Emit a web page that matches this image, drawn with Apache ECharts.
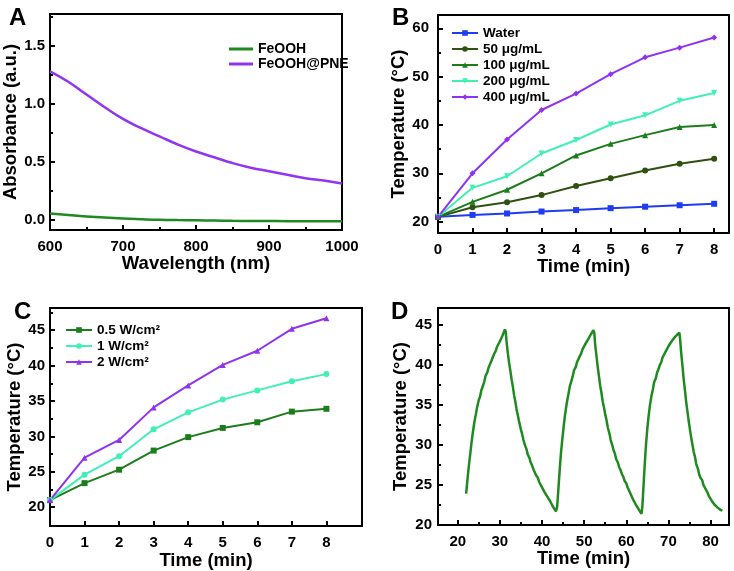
<!DOCTYPE html>
<html>
<head>
<meta charset="utf-8">
<script src="https://cdn.jsdelivr.net/npm/echarts@6/dist/echarts.min.js"></script>
<style>html,body{margin:0;padding:0;background:#fff}#c{width:734px;height:571px}</style>
</head>
<body>
<div id="c"></div>
<script>
// ---- Panel A data ----
const aWavelength = [600,625,650,675,700,725,750,775,800,825,850,875,900,925,950,975,1000];
const aFeOOH = [0.057,0.043,0.031,0.021,0.013,0.007,0.002,-0.001,-0.003,-0.005,-0.007,-0.008,-0.009,-0.010,-0.010,-0.010,-0.010];
const aPNE = [1.28,1.19,1.08,0.97,0.87,0.79,0.72,0.65,0.59,0.54,0.49,0.45,0.42,0.39,0.36,0.34,0.315];
const aXTicks = [600,700,800,900,1000];
const aXMinor = [650,750,850,950];
const aYTicks = [0,0.5,1.0,1.5];
const aYMinor = [0.25,0.75,1.25,1.75];

// ---- Panel B data ----
const bTime = [0,1,2,3,4,5,6,7,8];
const bWater = [21.0,21.4,21.7,22.1,22.4,22.8,23.1,23.4,23.7];
const b50 = [21.0,23.0,24.0,25.5,27.4,29.0,30.6,32.0,33.0];
const b100 = [21.0,24.1,26.6,30.0,33.7,36.1,37.9,39.6,40.0];
const b200 = [21.0,27.0,29.4,34.1,36.9,40.1,42.0,45.0,46.6];
const b400 = [21.0,30.0,37.0,43.1,46.5,50.5,54.0,56.0,58.1];
const bXTicks = [0,1,2,3,4,5,6,7,8];
const bYTicks = [20,30,40,50,60];
const bYMinor = [25,35,45,55];

// ---- Panel C data ----
const cTime = [0,1,2,3,4,5,6,7,8];
const c05 = [21.0,23.4,25.3,28.0,29.9,31.2,32.0,33.5,33.9];
const c1 = [21.0,24.6,27.2,31.0,33.4,35.2,36.5,37.8,38.8];
const c2 = [21.0,27.0,29.5,34.1,37.2,40.1,42.1,45.2,46.7];
const cXTicks = [0,1,2,3,4,5,6,7,8];
const cYTicks = [20,25,30,35,40,45];
const cYMinor = [22.5,27.5,32.5,37.5,42.5,47.5];

// ---- Panel D data ----
const dTime = [
22.0,22.3,22.6,23.0,23.3,23.6,24.0,24.3,24.6,25.0,25.3,25.6,26.0,26.3,26.6,27.0,27.3,27.6,28.0,28.3,28.6,29.0,29.3,29.6,30.0,30.3,30.6,31.0,31.2,31.4,
31.6,31.9,32.2,32.5,32.8,33.1,33.4,33.7,34.0,34.3,34.6,35.0,35.3,35.6,36.0,36.3,36.6,37.0,37.3,37.6,38.0,38.3,38.6,39.0,39.3,39.6,40.0,40.3,40.6,41.0,41.3,41.6,42.0,42.3,42.6,43.0,43.3,
43.6,43.9,44.2,44.5,44.8,45.1,45.4,45.7,46.0,46.3,46.6,47.0,47.3,47.6,48.0,48.3,48.6,49.0,49.3,49.6,50.0,50.3,50.6,51.0,51.3,51.6,52.0,52.2,52.4,
52.6,52.9,53.2,53.5,53.8,54.1,54.4,54.7,55.0,55.3,55.6,56.0,56.3,56.6,57.0,57.3,57.6,58.0,58.3,58.6,59.0,59.3,59.6,60.0,60.3,60.6,61.0,61.3,61.6,62.0,62.3,62.6,63.0,63.3,63.6,
63.8,64.1,64.4,64.7,65.0,65.3,65.6,66.0,66.3,66.6,67.0,67.3,67.6,68.0,68.3,68.6,69.0,69.3,69.6,70.0,70.3,70.6,71.0,71.3,71.6,72.0,72.3,72.6,
72.8,73.0,73.3,73.6,73.9,74.2,74.5,74.8,75.1,75.4,75.7,76.0,76.3,76.6,77.0,77.3,77.6,78.0,78.3,78.6,79.0,79.3,79.6,80.0,80.3,80.6,81.0,81.3,81.6,82.0,82.3,82.6,82.8];
const dTemp = [
23.9,25.6,27.2,29.0,30.4,31.6,33.0,33.8,34.7,35.6,36.0,36.8,37.4,37.9,38.6,39.0,39.6,39.8,40.5,40.7,41.3,41.7,42.2,42.3,42.9,43.0,43.6,43.6,44.4,44.1,
42.8,41.4,40.2,39.2,38.1,37.2,36.1,35.3,34.3,33.6,32.8,31.9,31.3,30.6,29.9,29.5,28.8,28.4,27.8,27.5,26.9,26.7,26.2,25.9,25.4,25.2,24.7,24.6,24.1,23.9,23.5,23.3,22.9,22.8,22.3,22.2,21.7,
22.3,24.6,26.9,29.0,30.6,32.1,33.5,34.6,35.6,36.4,37.3,38.0,38.6,39.3,39.7,40.3,40.5,41.1,41.4,41.9,42.1,42.6,42.7,43.2,43.3,43.8,43.7,44.3,44.0,
42.6,41.2,39.8,38.6,37.4,36.5,35.4,34.7,33.8,33.1,32.2,31.4,30.6,30.1,29.3,28.9,28.2,27.8,27.2,26.9,26.3,26.0,25.5,25.2,24.7,24.5,23.9,23.7,23.2,23.0,22.5,22.4,21.9,21.8,21.4,
22.2,25.0,27.8,30.2,32.1,33.6,34.9,36.2,36.9,37.8,38.3,39.0,39.4,40.0,40.3,40.9,41.1,41.6,41.8,42.3,42.4,42.8,42.9,43.3,43.3,43.7,43.6,44.0,
43.0,41.6,40.0,38.3,36.9,35.4,34.2,33.0,31.9,30.9,30.0,29.1,28.5,27.6,27.0,26.3,25.9,25.6,25.0,24.8,24.3,24.0,23.6,23.4,23.0,22.9,22.5,22.5,22.2,22.3,21.9,22.1,21.8];
const dXTicks = [20,30,40,50,60,70,80];
const dXMinor = [25,35,45,55,65,75];
const dYTicks = [20,25,30,35,40,45];
const dYMinor = [22.5,27.5,32.5,37.5,42.5];

const FONT = 'Liberation Sans';
const zip = (xs, ys) => xs.map((x, i) => [x, ys[i]]);

function axisPair(kind, gridIndex, min, max, ticks, minors, o) {
  const main = {
    type: 'value', gridIndex, min, max,
    position: kind === 'x' ? 'bottom' : 'left',
    axisLine: { show: true, onZero: false, lineStyle: { color: '#000', width: 2 } },
    axisTick: { show: true, inside: true, length: 5, customValues: ticks, lineStyle: { color: '#000', width: 2 } },
    axisLabel: { customValues: ticks, color: '#000', fontSize: 15, fontWeight: 'bold', fontFamily: FONT,
                 margin: o.margin, formatter: o.formatter || (v => String(v)) },
    splitLine: { show: false },
    name: o.name, nameLocation: 'middle', nameGap: o.nameGap,
    nameTextStyle: { color: '#000', fontSize: 18.5, fontWeight: 'bold', fontFamily: FONT }
  };
  const axes = [main];
  if (minors && minors.length) {
    axes.push({
      type: 'value', gridIndex, min, max,
      position: kind === 'x' ? 'bottom' : 'left',
      axisLine: { show: false, onZero: false },
      axisTick: { show: true, inside: true, length: 3, customValues: minors, lineStyle: { color: '#000', width: 2 } },
      axisLabel: { show: false },
      splitLine: { show: false }
    });
  }
  return axes;
}

const xAxes = [], yAxes = [];
const xIdx = [], yIdx = [];
function addAxes(list, idxList, axes) { idxList.push(list.length); axes.forEach(a => list.push(a)); }

addAxes(xAxes, xIdx, axisPair('x', 0, 600, 1000, aXTicks, aXMinor, { name: 'Wavelength (nm)', nameGap: 22, margin: 9 }));
addAxes(yAxes, yIdx, axisPair('y', 0, -0.086, 1.773, aYTicks, aYMinor, { name: 'Absorbance (a.u.)', nameGap: 29, margin: 5, formatter: v => v.toFixed(1) }));
addAxes(xAxes, xIdx, axisPair('x', 1, 0, 8.43, bXTicks, null, { name: 'Time (min)', nameGap: 20, margin: 9 }));
addAxes(yAxes, yIdx, axisPair('y', 1, 17.66, 62.75, bYTicks, bYMinor, { name: 'Temperature (°C)', nameGap: 29, margin: 9 }));
addAxes(xAxes, xIdx, axisPair('x', 2, 0, 9.03, cXTicks, null, { name: 'Time (min)', nameGap: 23, margin: 9 }));
addAxes(yAxes, yIdx, axisPair('y', 2, 17.33, 48.14, cYTicks, cYMinor, { name: 'Temperature (°C)', nameGap: 26, margin: 5 }));
addAxes(xAxes, xIdx, axisPair('x', 3, 15.32, 84.37, dXTicks, dXMinor, { name: 'Time (min)', nameGap: 24, margin: 9 }));
addAxes(yAxes, yIdx, axisPair('y', 3, 20, 47.07, dYTicks, dYMinor, { name: 'Temperature (°C)', nameGap: 28, margin: 6 }));

const gridBase = { show: true, borderColor: '#000', borderWidth: 2, backgroundColor: 'transparent', containLabel: false };

function lineSeries(name, g, data, color, symbol, extra) {
  return Object.assign({
    name, type: 'line', xAxisIndex: xIdx[g], yAxisIndex: yIdx[g], data,
    symbol: symbol || 'none', symbolSize: 6, showSymbol: !!symbol,
    lineStyle: { color, width: 2 }, itemStyle: { color }, emphasis: { disabled: true }, animation: false
  }, extra || {});
}

const legendText = { color: '#000', fontSize: 14, fontWeight: 'bold', fontFamily: FONT };

const option = {
  animation: false,
  title: [
    { text: 'A', left: 4, top: 1, textStyle: { fontSize: 24, fontWeight: 'bold', fontFamily: FONT, color: '#000' } },
    { text: 'B', left: 387, top: 1, textStyle: { fontSize: 24, fontWeight: 'bold', fontFamily: FONT, color: '#000' } },
    { text: 'C', left: 9, top: 295, textStyle: { fontSize: 24, fontWeight: 'bold', fontFamily: FONT, color: '#000' } },
    { text: 'D', left: 386, top: 295, textStyle: { fontSize: 24, fontWeight: 'bold', fontFamily: FONT, color: '#000' } }
  ],
  grid: [
    Object.assign({ left: 50, top: 14, width: 292, height: 216 }, gridBase),
    Object.assign({ left: 438, top: 15, width: 291, height: 218 }, gridBase),
    Object.assign({ left: 50, top: 308, width: 312, height: 219 }, gridBase),
    Object.assign({ left: 438, top: 308, width: 291, height: 217 }, gridBase)
  ],
  xAxis: xAxes,
  yAxis: yAxes,
  legend: [
    { data: [{ name: 'FeOOH', icon: 'rect' }, { name: 'FeOOH@PNE', icon: 'rect' }], orient: 'vertical', left: 224, top: 37,
      itemWidth: 24, itemHeight: 3, itemGap: 1,
      textStyle: Object.assign({ lineHeight: 14 }, legendText), selectedMode: false },
    { data: ['Water', '50 μg/mL', '100 μg/mL', '200 μg/mL', '400 μg/mL'], orient: 'vertical', left: 446, top: 20, itemWidth: 26, itemHeight: 7, itemGap: 0,
      textStyle: Object.assign({ lineHeight: 16 }, legendText, { fontSize: 13.5 }), selectedMode: false },
    { data: ['0.5 W/cm²', '1 W/cm²', '2 W/cm²'], orient: 'vertical', left: 60, top: 317, itemWidth: 26, itemHeight: 7, itemGap: 0,
      textStyle: Object.assign({ lineHeight: 16 }, legendText, { fontSize: 13.5 }), selectedMode: false }
  ],
  series: [
    lineSeries('FeOOH', 0, zip(aWavelength, aFeOOH), '#1f8a1f', null, { smooth: true, lineStyle: { color: '#1f8a1f', width: 2.5 } }),
    lineSeries('FeOOH@PNE', 0, zip(aWavelength, aPNE), '#9035f0', null, { smooth: true, lineStyle: { color: '#9035f0', width: 2.5 } }),
    lineSeries('Water', 1, zip(bTime, bWater), '#1f3cf2', 'rect'),
    lineSeries('50 μg/mL', 1, zip(bTime, b50), '#2f5010', 'circle'),
    lineSeries('100 μg/mL', 1, zip(bTime, b100), '#1c7d1c', 'triangle'),
    lineSeries('200 μg/mL', 1, zip(bTime, b200), '#40f0b4', 'triangle', { symbolRotate: 180 }),
    lineSeries('400 μg/mL', 1, zip(bTime, b400), '#8f33f0', 'diamond'),
    lineSeries('0.5 W/cm²', 2, zip(cTime, c05), '#1c7d1c', 'rect'),
    lineSeries('1 W/cm²', 2, zip(cTime, c1), '#40f0b4', 'circle'),
    lineSeries('2 W/cm²', 2, zip(cTime, c2), '#8f33f0', 'triangle'),
    lineSeries('cycle', 3, zip(dTime, dTemp), '#1f8a1f', null, { lineStyle: { color: '#1f8a1f', width: 2.5 } })
  ]
};

const chart = echarts.init(document.getElementById('c'), null, { renderer: 'canvas' });
chart.setOption(option);
</script>
</body>
</html>
